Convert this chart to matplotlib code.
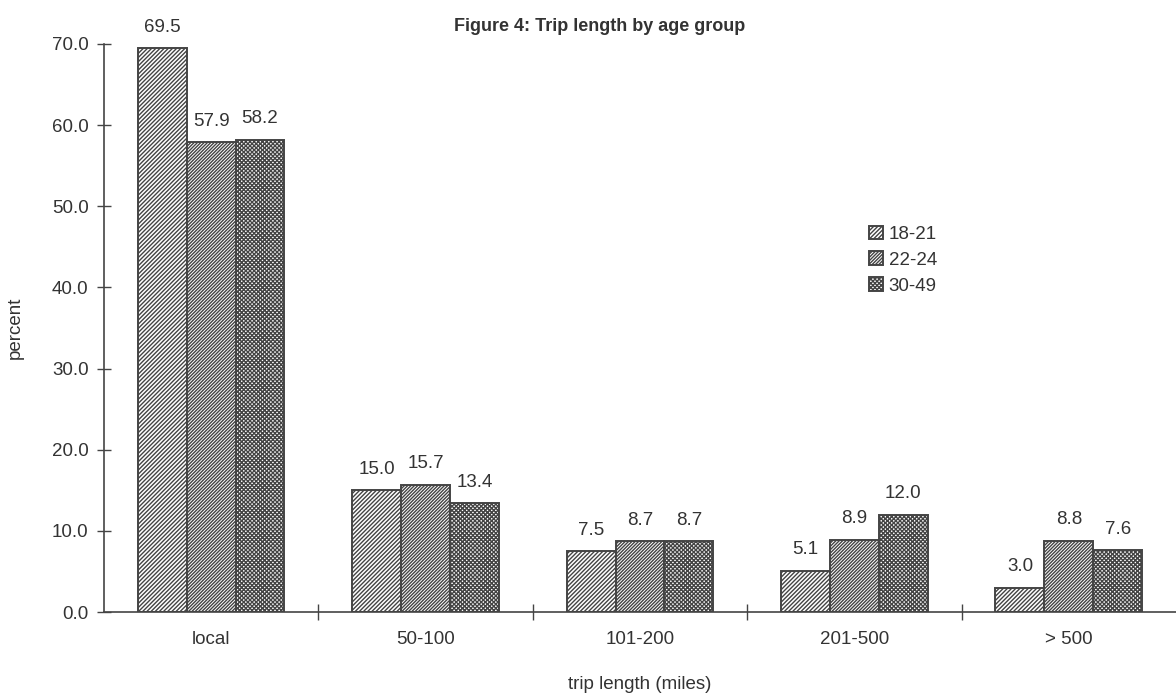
import numpy as np
import matplotlib.pyplot as plt

plt.rcParams['font.family'] = ['Liberation Sans', 'DejaVu Sans']
plt.rcParams['hatch.linewidth'] = 1.0

# trip length categories and share of trips per age group (percent)
categories = ['local', '50-100', '101-200', '201-500', '> 500']
age_groups = ['18-21', '22-24', '30-49']
pct_18_21 = [69.5, 15.0, 7.5, 5.1, 3.0]
pct_22_24 = [57.9, 15.7, 8.7, 8.9, 8.8]
pct_30_49 = [58.2, 13.4, 8.7, 12.0, 7.6]
y_ticks = [0, 10, 20, 30, 40, 50, 60, 70]

series = [pct_18_21, pct_22_24, pct_30_49]
hatches = ['////////', '//////////', 'xxxxxxxx']

ink = '#333333'
edge = '#444444'
fs = 13.5

fig = plt.figure(figsize=(11.76, 6.95), dpi=100)
ax = fig.add_axes([0.0884, 0.1194, 0.9116, 0.8173])

x = np.arange(len(categories))
width = 0.228
for i, (vals, label, h) in enumerate(zip(series, age_groups, hatches)):
    pos = x + (i - 1) * width
    bars = ax.bar(pos, vals, width, facecolor='white', edgecolor=edge,
                  hatch=h, linewidth=1.4, label=label)
    for b, v in zip(bars, vals):
        ax.annotate(f'{v:.1f}', (b.get_x() + b.get_width() / 2, v),
                    xytext=(0, 9), textcoords='offset points',
                    ha='center', va='bottom', fontsize=fs, color=ink)

ax.set_xlim(-0.5, len(categories) - 0.5)
ax.set_ylim(0, 70)
ax.set_yticks(y_ticks)
ax.set_yticklabels([f'{t:.1f}' for t in y_ticks], fontsize=fs, color=ink)

# category names sit between the boundary ticks
ax.set_xticks(np.arange(len(categories) - 1) + 0.5)
ax.set_xticklabels([])
ax.set_xticks(x, minor=True)
ax.set_xticklabels(categories, minor=True, fontsize=fs, color=ink)
ax.tick_params(axis='x', which='minor', length=0, pad=14)
ax.tick_params(axis='x', which='major', direction='inout', length=12,
               color=edge, width=1)
ax.tick_params(axis='y', direction='inout', length=10, color=edge,
               width=1, pad=6)

for side in ['top', 'right']:
    ax.spines[side].set_visible(False)
for side in ['left', 'bottom']:
    ax.spines[side].set_color(edge)
    ax.spines[side].set_linewidth(1.2)

ax.set_ylabel('percent', fontsize=fs, color=ink, labelpad=20)
ax.set_xlabel('trip length (miles)', fontsize=fs, color=ink, labelpad=20)

fig.text(0.51, 0.962, 'Figure 4: Trip length by age group', ha='center',
         va='center', fontsize=13, fontweight='bold', color=ink)

ax.legend(loc='upper left', bbox_to_anchor=(0.698, 0.71), frameon=False,
          fontsize=fs, handlelength=0.75, handleheight=0.75,
          handletextpad=0.3, labelspacing=0.45, labelcolor=ink)

fig.savefig('out.png', dpi=100)
